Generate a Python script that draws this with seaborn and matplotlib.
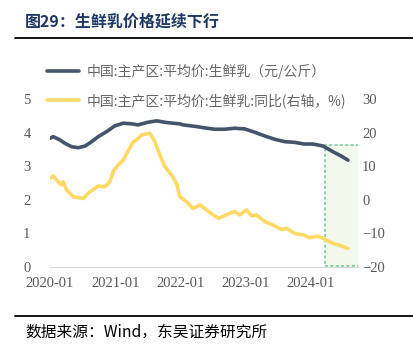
import matplotlib
matplotlib.use('Agg')
import matplotlib.pyplot as plt
import matplotlib.dates as mdates
from matplotlib.lines import Line2D
from matplotlib.patches import Rectangle
import pandas as pd
import seaborn as sns

# 中国:主产区:平均价:生鲜乳 (元/公斤), left axis
price_dates = ['2020-01-01', '2020-01-19', '2020-02-26', '2020-03-25', '2020-05-01', '2020-06-07',
               '2020-07-15', '2020-08-21', '2020-09-27', '2020-11-13', '2020-12-29', '2021-02-14',
               '2021-04-02', '2021-05-09', '2021-06-25', '2021-08-19', '2021-10-14', '2021-11-20',
               '2021-12-28', '2022-01-15', '2022-03-31', '2022-05-16', '2022-07-11', '2022-09-05',
               '2022-10-31', '2022-12-26', '2023-02-20', '2023-04-17', '2023-06-12', '2023-08-07',
               '2023-10-02', '2023-11-23', '2024-01-12', '2024-03-08', '2024-05-03', '2024-06-19',
               '2024-07-26']
price_vals = [3.83, 3.88, 3.78, 3.68, 3.58, 3.55,
              3.60, 3.73, 3.88, 4.03, 4.20, 4.28,
              4.26, 4.23, 4.30, 4.35, 4.30, 4.28,
              4.26, 4.23, 4.18, 4.14, 4.10, 4.10,
              4.13, 4.11, 4.01, 3.90, 3.80, 3.73,
              3.71, 3.66, 3.66, 3.60, 3.43, 3.30,
              3.18]

# 中国:主产区:平均价:生鲜乳:同比 (%), right axis
yoy_dates = ['2020-01-01', '2020-01-19', '2020-02-15', '2020-03-06', '2020-03-15', '2020-04-03',
             '2020-05-10', '2020-07-05', '2020-08-12', '2020-09-27', '2020-11-03', '2020-12-01',
             '2020-12-20', '2021-01-17', '2021-02-14', '2021-03-05', '2021-04-11', '2021-04-30',
             '2021-05-28', '2021-07-13', '2021-08-10', '2021-09-07', '2021-10-05', '2021-11-11',
             '2021-12-09', '2021-12-28', '2022-02-03', '2022-03-12', '2022-04-19', '2022-05-26',
             '2022-07-02', '2022-08-04', '2022-09-24', '2022-10-31', '2022-11-28', '2023-01-05',
             '2023-02-02', '2023-03-01', '2023-04-17', '2023-06-02', '2023-07-19', '2023-08-16',
             '2023-10-02', '2023-11-23', '2023-12-24', '2024-02-09', '2024-03-08', '2024-05-03',
             '2024-06-19', '2024-07-26']
yoy_vals = [6.4, 7.1, 5.4, 4.4, 5.4, 2.9,
            0.9, 0.4, 2.4, 4.1, 3.9, 5.4,
            8.4, 10.4, 11.8, 13.8, 17.3, 17.8,
            19.3, 19.8, 17.3, 13.3, 9.9, 7.4,
            4.9, 0.9, -0.6, -2.6, -1.5, -3.0,
            -4.5, -5.5, -4.2, -3.5, -4.5, -3.0,
            -4.8, -4.5, -6.5, -7.5, -8.8, -8.5,
            -10.0, -10.5, -11.3, -10.8, -11.5, -13.0,
            -13.7, -14.5]

price_label = '中国:主产区:平均价:生鲜乳（元/公斤）'
yoy_label = '中国:主产区:平均价:生鲜乳:同比(右轴，%)'
xtick_labels = ['2020-01', '2021-01', '2022-01', '2023-01', '2024-01']
box_span = ('2024-03-22', '2024-09-24')

sns.set_style('white')
plt.rcParams['font.family'] = ['Noto Sans CJK SC', 'DejaVu Sans']

dark = '#44546A'
yellow = '#FFD966'
gray = '#595959'
serif = ['Liberation Serif', 'DejaVu Serif']

fig = plt.figure(figsize=(4.14, 3.51), dpi=100)
ax = fig.add_axes([50 / 414, 1 - 267 / 351, 308 / 414, 168 / 351])
ax2 = ax.twinx()

price = pd.DataFrame({'date': pd.to_datetime(price_dates), 'value': price_vals})
yoy = pd.DataFrame({'date': pd.to_datetime(yoy_dates), 'value': yoy_vals})

# highlight box
b0, b1 = mdates.date2num(pd.to_datetime(list(box_span)))
ax.add_patch(Rectangle((b0, 0.03), b1 - b0, 3.6, facecolor='#EEF6E6', alpha=0.7,
                       edgecolor='#2DB36A', linestyle=(0, (2, 1.5)), linewidth=1.1, zorder=0))

sns.lineplot(data=price, x='date', y='value', ax=ax, color=dark, linewidth=2.6, zorder=3)
sns.lineplot(data=yoy, x='date', y='value', ax=ax2, color=yellow, linewidth=2.6, zorder=3)

ax.set_xlim(pd.Timestamp('2020-01-01'), pd.Timestamp('2024-09-20'))
ax.set_ylim(0, 5)
ax2.set_ylim(-20, 30)
ax.set_yticks([0, 1, 2, 3, 4, 5])
ax2.set_yticks([-20, -10, 0, 10, 20, 30])
ax.set_xticks(pd.to_datetime([t + '-01' for t in xtick_labels]))
ax.set_xticklabels(xtick_labels)
ax.set_xlabel('')
ax.set_ylabel('')
ax2.set_ylabel('')

for a in (ax, ax2):
    for s in a.spines.values():
        s.set_visible(False)
ax.spines['bottom'].set_visible(True)
ax.spines['bottom'].set_color('#D9D9D9')
ax.tick_params(axis='x', length=3, color='#D9D9D9', pad=4, labelsize=10.5, labelcolor=gray)
ax.tick_params(axis='y', length=0, pad=14, labelsize=10.5, labelcolor=gray)
ax2.tick_params(axis='y', length=0, pad=3, labelsize=10.5, labelcolor=gray)
for lab in ax.get_xticklabels() + ax.get_yticklabels() + ax2.get_yticklabels():
    lab.set_family(serif)

handles = [Line2D([], [], color=dark, linewidth=2.6), Line2D([], [], color=yellow, linewidth=2.6)]
leg = fig.legend(handles, [price_label, yoy_label], loc='upper left',
                 bbox_to_anchor=(35 / 414, 1 - 51 / 351), frameon=False, fontsize=10,
                 handlelength=2.3, handletextpad=0.5, labelspacing=1.05)
for t in leg.get_texts():
    t.set_color('#666666')

fig.text(25 / 414, 1 - 22 / 351, '图29：生鲜乳价格延续下行', fontsize=11.5, fontweight='bold',
         color='#1F3864', va='center', ha='left')
fig.add_artist(Line2D([15 / 414, 1], [1 - 38 / 351] * 2, color='black', linewidth=1.3))
fig.add_artist(Line2D([15 / 414, 1], [1 - 316 / 351] * 2, color='black', linewidth=1.3))
fig.text(25 / 414, 1 - 332 / 351, '数据来源：Wind，东吴证券研究所', fontsize=11.3, color='black',
         va='center', ha='left')

fig.savefig('out.png', dpi=100)
